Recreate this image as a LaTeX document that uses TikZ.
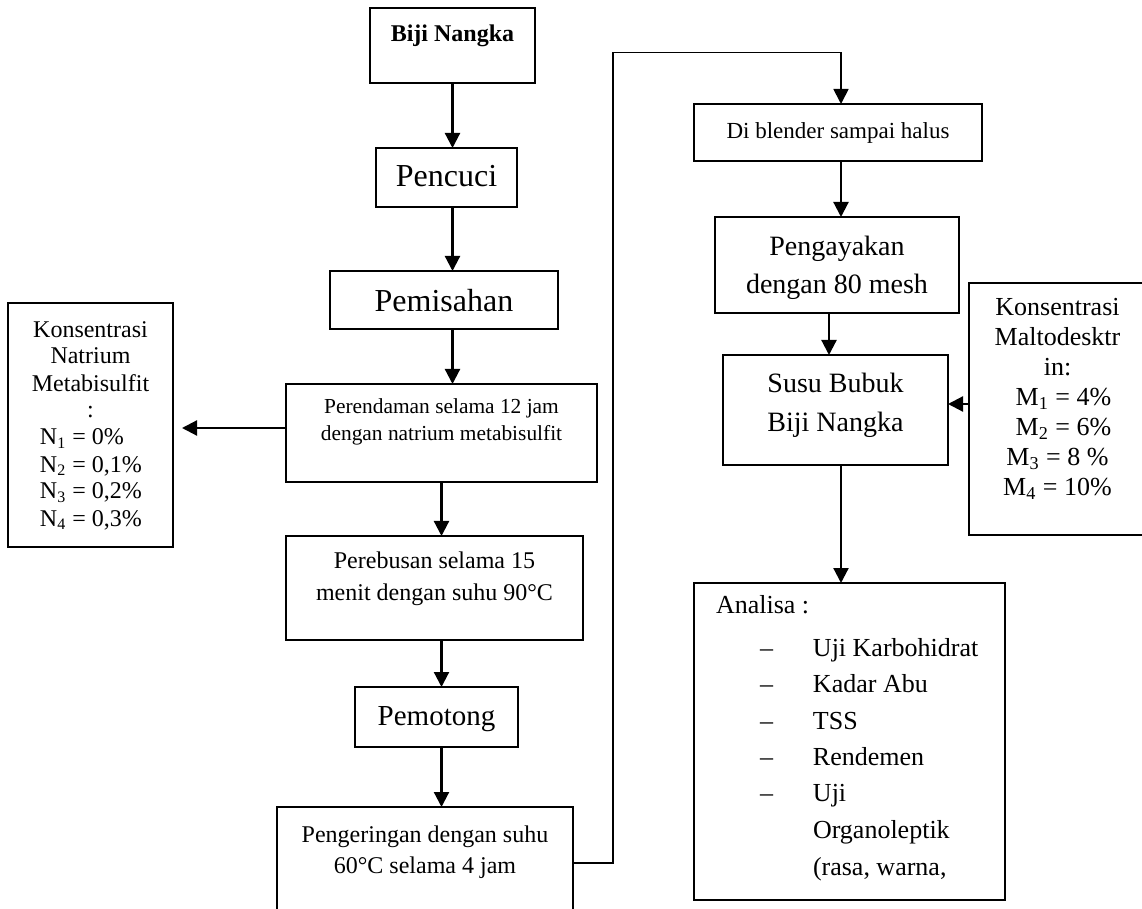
\documentclass[tikz,border=0pt]{standalone}
\usepackage{fontspec}
\setmainfont{Liberation Serif}
\usetikzlibrary{arrows.meta}
\newcommand{\flowtext}[6]{\parbox[c][#2][t]{#1}{\centering\fontsize{#3}{#4}\selectfont\rule{0pt}{#5}#6}}
\tikzset{
  flowbox/.style={draw, line width=0.7pt, inner sep=0pt, outer sep=0pt},
  flowarrow/.style={->, line width=1.1pt},
}
\begin{document}
\begin{tikzpicture}[x=0.5pt, y=-0.5pt, >={Triangle[width=7.5pt,length=7.5pt]}]
		\useasboundingbox (0,0) rectangle (1142,909);
		\clip (0,0) rectangle (1142,909);
		\path
		(452.5,45.5) coordinate (pBiji)
		(446.5,177.5) coordinate (pCuci)
		(444,300) coordinate (pPisah)
		(441.5,433) coordinate (pRendam)
		(434.5,588) coordinate (pRebus)
		(436.5,717) coordinate (pPotong)
		(425,871) coordinate (pKering)
		(838,132.5) coordinate (pBlender)
		(837,265) coordinate (pAyak)
		(835.5,410) coordinate (pSusu)
		(849.5,741.5) coordinate (pAnalisa)
		(90.5,425) coordinate (pNatrium)
		(1057.5,409) coordinate (pMalto)
		(613,52.5) coordinate (turn)
		(841,0) coordinate (rspine)
	;
		\node[flowbox] (biji) at (pBiji) {\flowtext{82.5pt}{37.5pt}{12}{14}{17pt}{\bfseries Biji Nangka}};
		\node[flowbox] (pencuci) at (pCuci) {\flowtext{70.5pt}{29.5pt}{16}{18}{19.5pt}{Pencuci}};
		\node[flowbox] (pemisahan) at (pPisah) {\flowtext{114pt}{29pt}{16}{18}{20.5pt}{Pemisahan}};
		\node[flowbox] (rendam) at (pRendam) {\flowtext{155.5pt}{49pt}{10.7}{14}{14.5pt}{Perendaman selama 12 jam\\dengan natrium metabisulfit}};
		\node[flowbox] (rebus) at (pRebus) {\flowtext{148.5pt}{52pt}{12}{16}{16pt}{Perebusan selama 15\\menit dengan suhu 90°C}};
		\node[flowbox] (potong) at (pPotong) {\flowtext{81.5pt}{30pt}{14.5}{17}{19pt}{Pemotong}};
		\node[flowbox] (kering) at (pKering) {\flowtext{148pt}{64pt}{12}{15.5}{17.5pt}{Pengeringan dengan suhu\\60°C selama 4 jam}};
		\node[flowbox] (blender) at (pBlender) {\flowtext{144pt}{28.5pt}{11.5}{14}{17.5pt}{Di blender sampai halus}};
		\node[flowbox] (ayak) at (pAyak) {\flowtext{122pt}{48pt}{14}{19}{19.5pt}{Pengayakan\\dengan 80 mesh}};
		\node[flowbox] (susu) at (pSusu) {\flowtext{112.5pt}{55pt}{14}{19.5}{19pt}{Susu Bubuk\\Biji Nangka}};
		\node[flowbox] (natrium) at (pNatrium) {\flowtext{82.5pt}{122pt}{12}{13.5}{17pt}{Konsentrasi\\Natrium\\Metabisulfit\\:\\
			\makebox[50.5pt][l]{N\textsubscript{1} = 0\%}\\\makebox[50.5pt][l]{N\textsubscript{2} = 0,1\%}\\
			\makebox[50.5pt][l]{N\textsubscript{3} = 0,2\%}\\\makebox[50.5pt][l]{N\textsubscript{4} = 0,3\%}}};
		\node[flowbox] (malto) at (pMalto) {\flowtext{88.5pt}{126pt}{13}{15}{16.5pt}{Konsentrasi\\Maltodesktr\\in:\\
			\hspace*{6pt}M\textsubscript{1} = 4\%\\\hspace*{6pt}M\textsubscript{2} = 6\%\\
			M\textsubscript{3} = 8 \%\\M\textsubscript{4} = 10\%}};
		\node[flowbox] (analisa) at (pAnalisa) {\parbox[c][158.5pt][t]{155.5pt}{\raggedright\fontsize{13}{18.25}\selectfont
			\rule{0pt}{15pt}\hspace*{11pt}Analisa :\\[3.25pt]
			\hspace*{33pt}\makebox[26.5pt][l]{\textendash}Uji Karbohidrat\\
			\hspace*{33pt}\makebox[26.5pt][l]{\textendash}Kadar Abu\\
			\hspace*{33pt}\makebox[26.5pt][l]{\textendash}TSS\\
			\hspace*{33pt}\makebox[26.5pt][l]{\textendash}Rendemen\\
			\hspace*{33pt}\makebox[26.5pt][l]{\textendash}Uji\\
			\hspace*{59.5pt}Organoleptik\\
			\hspace*{59.5pt}(rasa, warna,}};
		\draw[flowarrow] (biji.south) -- (biji.south |- pencuci.north);
		\draw[flowarrow] (pencuci.south -| biji.south) -- (biji.south |- pemisahan.north);
		\draw[flowarrow] (pemisahan.south -| biji.south) -- (biji.south |- rendam.north);
		\draw[flowarrow, shorten >=4.5pt] ([yshift=2.5pt]rendam.west) coordinate (rw) -- (rw -| natrium.east);
		\draw[flowarrow] (rendam.south) -- (rendam.south |- rebus.north);
		\draw[flowarrow] (rebus.south -| rendam.south) -- (rendam.south |- potong.north);
		\draw[flowarrow] (potong.south -| rendam.south) -- (rendam.south |- kering.north);
		\draw[->, line width=0.9pt] ([yshift=4pt]kering.east) -| (turn) -| (rspine |- blender.north);
		\draw[flowarrow] (rspine |- blender.south) -- (rspine |- ayak.north);
		\draw[flowarrow] ([xshift=-4pt]ayak.south) coordinate (as) -- (as |- susu.north);
		\draw[flowarrow] ([yshift=2.5pt]malto.west) coordinate (mw) -- (mw -| susu.east);
		\draw[flowarrow] (rspine |- susu.south) -- (rspine |- analisa.north);
\end{tikzpicture}
\end{document}
